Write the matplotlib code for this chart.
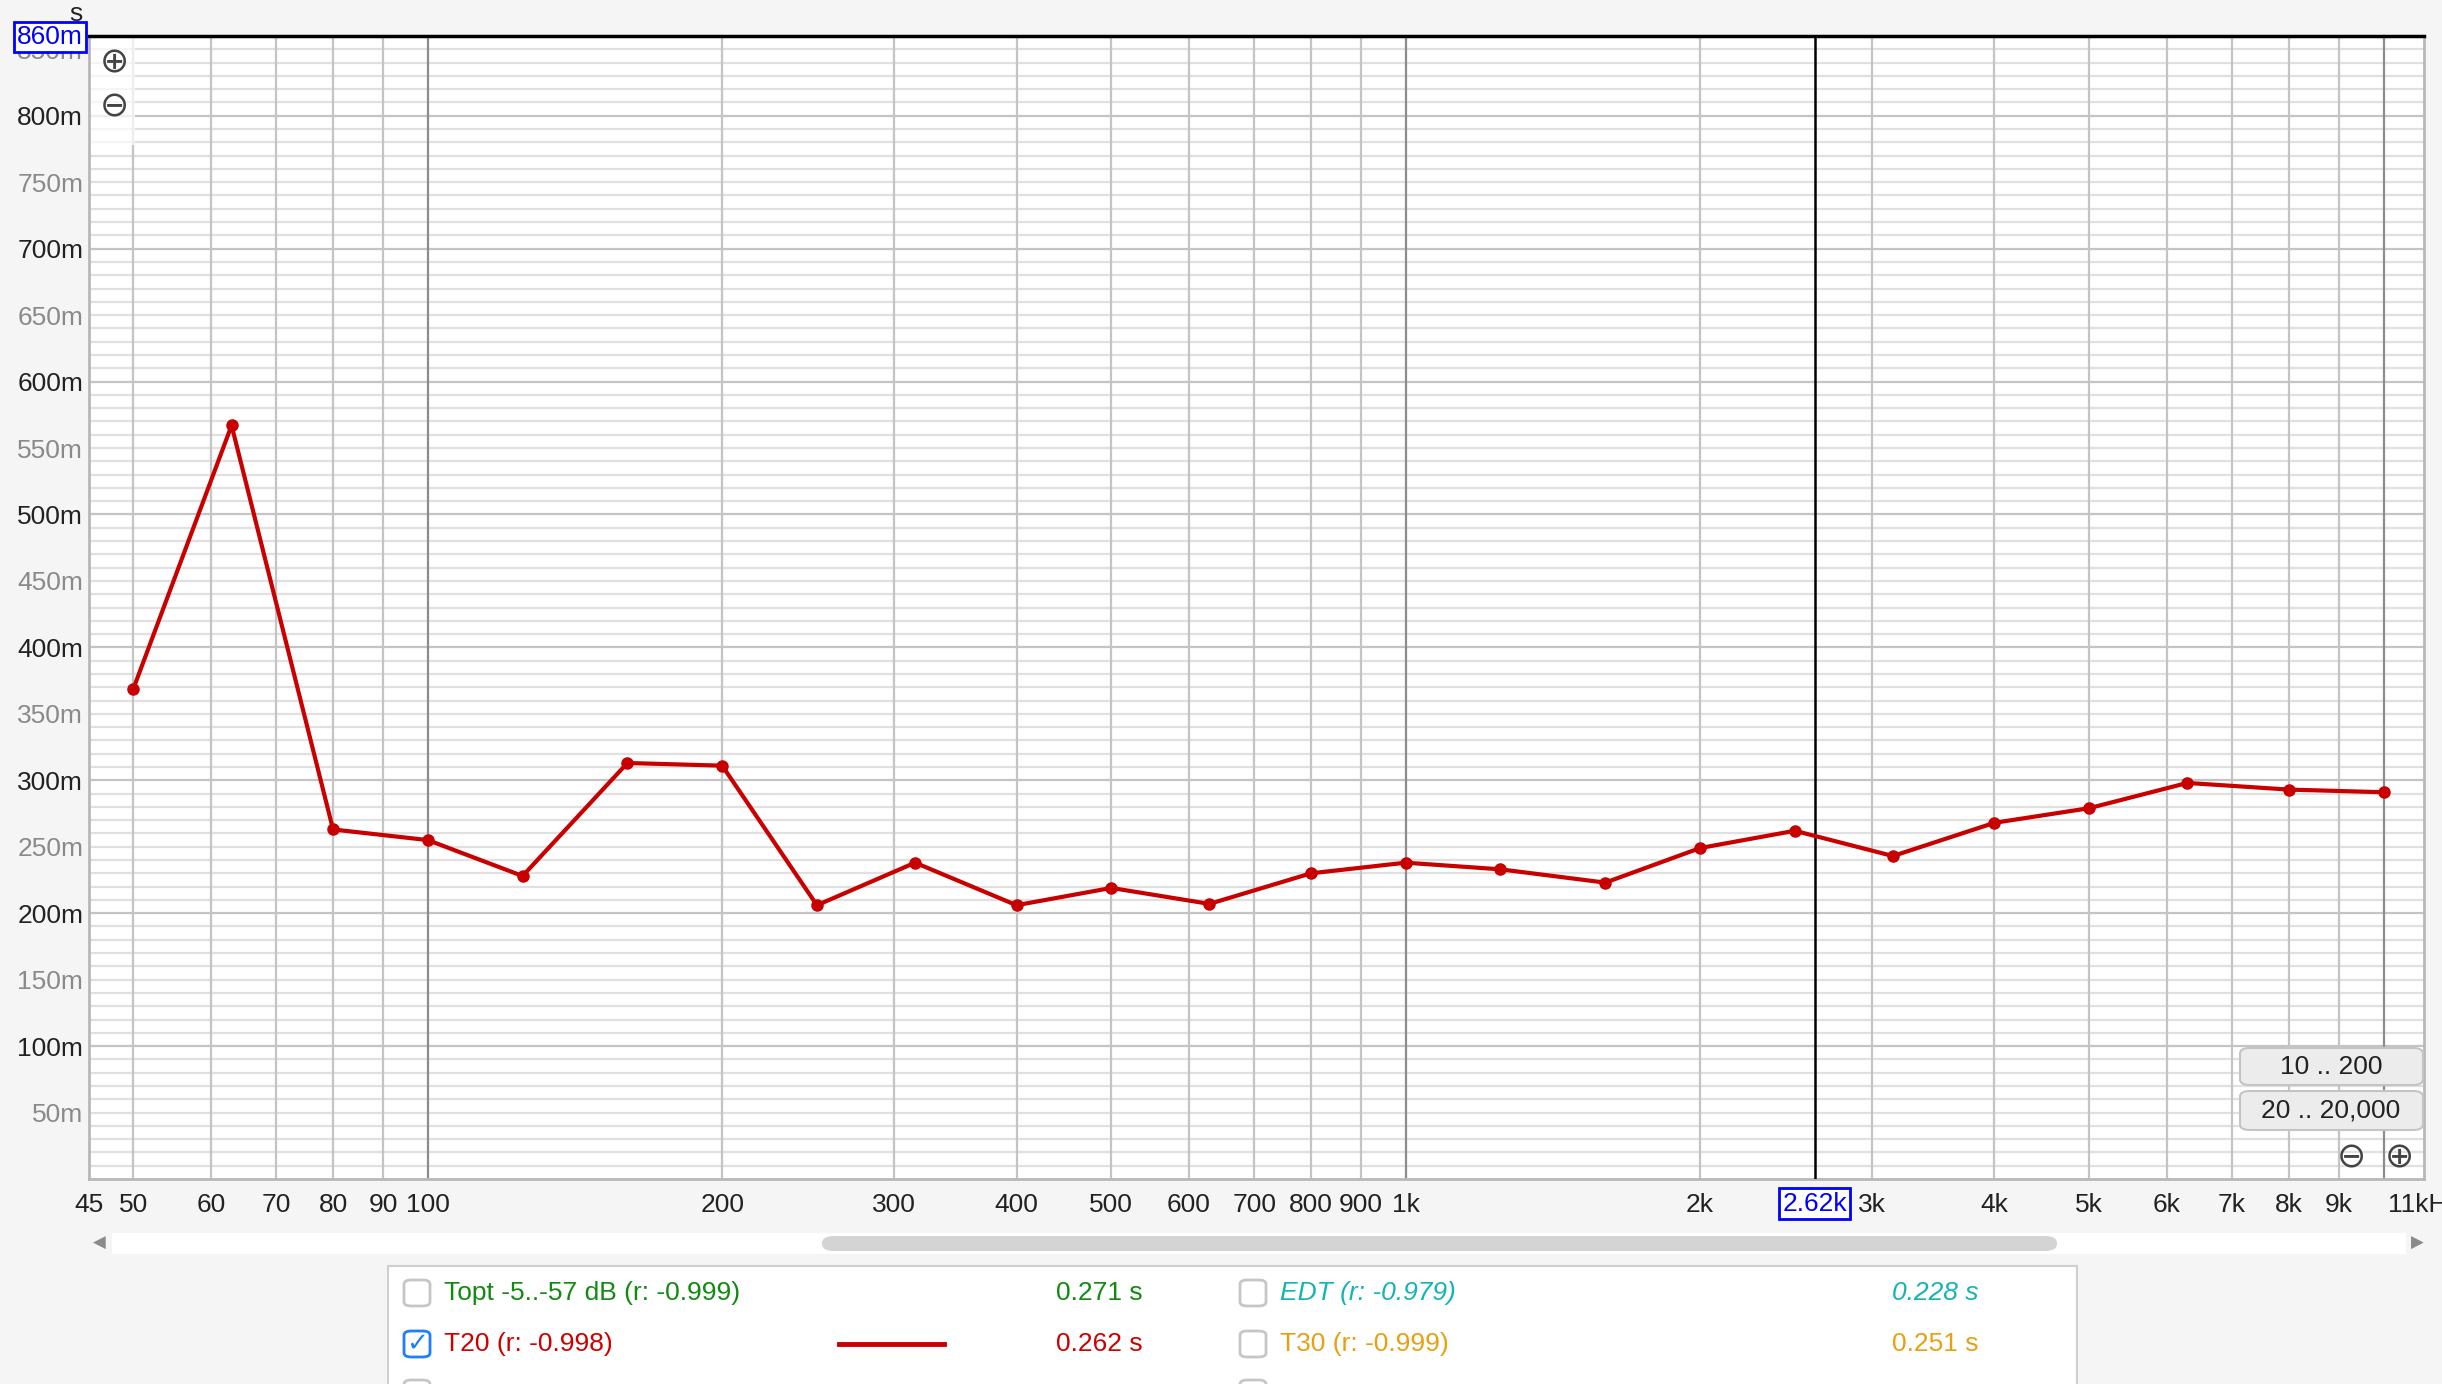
#!/usr/bin/env python

import matplotlib
matplotlib.use("Agg")
import matplotlib.pyplot as plt
from matplotlib.patches import Rectangle, FancyBboxPatch
from matplotlib.lines import Line2D
import matplotlib.transforms as mtransforms

plt.rcParams['font.family'] = ['Liberation Sans', 'DejaVu Sans']

# third-octave band centres (Hz) and T20 decay time (s)
freqs = [50, 63, 80, 100, 125, 160, 200, 250, 315, 400, 500, 630,
         800, 1000, 1250, 1600, 2000, 2500, 3150, 4000, 5000, 6300, 8000, 10000]
t20 = [0.369, 0.567, 0.263, 0.255, 0.228, 0.313, 0.311, 0.206, 0.238, 0.206, 0.219, 0.207,
       0.230, 0.238, 0.233, 0.223, 0.249, 0.262, 0.243, 0.268, 0.279, 0.298, 0.293, 0.291]

x_ticks = [45, 50, 60, 70, 80, 90, 100, 200, 300, 400, 500, 600, 700, 800, 900, 1000,
           2000, 3000, 4000, 5000, 6000, 7000, 8000, 9000, 11000]
x_labels = ["45", "50", "60", "70", "80", "90", "100", "200", "300", "400", "500", "600",
            "700", "800", "900", "1k", "2k", "3k", "4k", "5k", "6k", "7k", "8k", "9k", "11kHz"]
y_ticks = [0.05 * i for i in range(1, 18)]
y_labels = ["%dm" % round(v * 1000) for v in y_ticks]

cursor_freq = 2620
cursor_label = "2.62k"
top_label = "860m"

legend_names = ["Topt -5..-57 dB (r: -0.999)", "EDT (r: -0.979)",
                "T20 (r: -0.998)", "T30 (r: -0.999)"]
legend_values = ["0.271 s", "0.228 s", "0.262 s", "0.251 s"]
legend_colors = ["#128a12", "#14b4b4", "#cc0000", "#e8a010"]
legend_checked = [False, False, True, False]

W, H = 2442, 1384
RED = "#c80000"
FS = 19


def fx(px):
    return px / W


def fy(py):
    return 1 - py / H


def main():
    fig = plt.figure(figsize=(W / 100, H / 100), dpi=100, facecolor="#f5f5f5")
    ax = fig.add_axes([fx(88.7), fy(1179), fx(2424 - 88.7), (1179 - 36) / H])
    ax.set_facecolor("white")
    ax.set_xscale("log")
    ax.set_xlim(45, 11000)
    ax.set_ylim(0, 0.86)

    # grid
    for i in range(1, 87):
        v = i / 100
        ax.axhline(v, color="#c4c4c4" if i % 10 == 0 else "#e0e0e0", lw=1.6, zorder=1)
    for dec in [10, 100, 1000]:
        for m in range(1, 10):
            f = dec * m
            if f <= 45:
                continue
            dark = (m == 1 and dec > 10)
            ax.axvline(f, color="#8c8c8c" if dark else "#c4c4c4", lw=1.6, zorder=1)
    ax.axvline(10000, color="#8c8c8c", lw=1.6, zorder=1)

    # white backdrop behind zoom icons
    ax.add_patch(Rectangle((0, 0.905), 0.02, 0.095, transform=ax.transAxes,
                           facecolor="white", alpha=0.7, edgecolor="none", zorder=2))

    ax.plot(freqs, t20, color=RED, lw=3.0, marker="o", markersize=8, zorder=5)

    ax.axvline(cursor_freq, color="black", lw=1.8, zorder=4)

    ax.set_xticks(x_ticks)
    ax.set_xticklabels(x_labels)
    ax.minorticks_off()
    ax.set_yticks(y_ticks)
    ax.set_yticklabels(y_labels)
    ax.tick_params(axis="x", length=0, pad=10, labelsize=FS, labelcolor="#222222")
    ax.tick_params(axis="y", length=0, pad=4, labelsize=FS)
    for i, lab in enumerate(ax.get_yticklabels()):
        lab.set_color("#222222" if i % 2 == 1 else "#8a8a8a")

    for s in ["left", "bottom", "right"]:
        ax.spines[s].set_color("#b8b8b8")
        ax.spines[s].set_linewidth(2)
    ax.spines["top"].set_color("black")
    ax.spines["top"].set_linewidth(2.5)

    # cursor label on x axis
    trans = mtransforms.blended_transform_factory(ax.transData, ax.transAxes)
    ax.text(cursor_freq, -0.0215, cursor_label, transform=trans, ha="center", va="center",
            fontsize=FS, color="#0000ff",
            bbox=dict(boxstyle="square,pad=0.12", fc="white", ec="#0000ff", lw=2))

    # value box on y axis and unit
    fig.text(fx(83), fy(37), top_label, ha="right", va="center", fontsize=FS,
             color="#0000ff",
             bbox=dict(boxstyle="square,pad=0.12", fc="white", ec="#0000ff", lw=2))
    fig.text(fx(76), fy(14), "s", ha="center", va="center", fontsize=FS, color="#222222")

    # zoom icons
    for (px, py, sym) in [(114, 62, "\u2295"), (114, 106, "\u2296"),
                          (2351, 1157, "\u2296"), (2399, 1157, "\u2295")]:
        fig.text(fx(px), fy(py), sym, ha="center", va="center", fontsize=25,
                 color="#444444", family="DejaVu Sans", zorder=10)

    # range buttons
    for (py0, py1, txt) in [(1048, 1085, "10 .. 200"), (1091, 1130, "20 .. 20,000")]:
        fig.patches.append(FancyBboxPatch((fx(2240), fy(py1)), fx(2423 - 2240), (py1 - py0) / H,
                                          boxstyle="round,pad=0,rounding_size=0.004",
                                          transform=fig.transFigure, fc="#ececec",
                                          ec="#c4c4c4", lw=1.5, zorder=8))
        fig.text(fx(2331), fy((py0 + py1) / 2), txt, ha="center", va="center",
                 fontsize=FS, color="#222222", zorder=9)

    # scrollbar
    fig.patches.append(Rectangle((fx(112), fy(1254)), fx(2406 - 112), 21 / H,
                                 transform=fig.transFigure, fc="white", ec="none"))
    fig.patches.append(FancyBboxPatch((fx(822), fy(1251)), fx(2057 - 822), 15 / H,
                                      boxstyle="round,pad=0,rounding_size=0.005",
                                      transform=fig.transFigure, fc="#d4d4d4", ec="none"))
    fig.text(fx(99), fy(1243), "\u25c0", ha="center", va="center", fontsize=12,
             color="#8a8a8a", family="DejaVu Sans")
    fig.text(fx(2417), fy(1243), "\u25b6", ha="center", va="center", fontsize=12,
             color="#8a8a8a", family="DejaVu Sans")

    # legend panel
    fig.patches.append(Rectangle((fx(388), fy(1400)), fx(2077 - 388), 134 / H,
                                 transform=fig.transFigure, fc="white", ec="#cfcfcf", lw=1.5))
    rows_y = [1293, 1293, 1344, 1344]
    box_x = [417, 1253, 417, 1253]
    val_x = [1143, 1979, 1143, 1979]
    for i in range(4):
        bx, by = box_x[i], rows_y[i]
        ec = "#1e7cff" if legend_checked[i] else "#c6c6c6"
        fig.patches.append(FancyBboxPatch((fx(bx - 13), fy(by + 13)), fx(26), 26 / H,
                                          boxstyle="round,pad=0,rounding_size=0.003",
                                          transform=fig.transFigure, fc="white", ec=ec, lw=2))
        if legend_checked[i]:
            fig.text(fx(bx), fy(by), "\u2713", ha="center", va="center", fontsize=19,
                     color="#1e7cff", family="DejaVu Sans", weight="bold")
        style = "italic" if legend_names[i].startswith("EDT") else "normal"
        fig.text(fx(bx + 27), fy(by), legend_names[i], ha="left", va="center",
                 fontsize=FS, color=legend_colors[i], style=style)
        fig.text(fx(val_x[i]), fy(by), legend_values[i], ha="right", va="center",
                 fontsize=FS, color=legend_colors[i], style=style)
    # third row checkboxes, cut by the window edge
    for bx in [417, 1253]:
        fig.patches.append(FancyBboxPatch((fx(bx - 13), fy(1406)), fx(26), 26 / H,
                                          boxstyle="round,pad=0,rounding_size=0.003",
                                          transform=fig.transFigure, fc="white",
                                          ec="#c6c6c6", lw=2))
    fig.lines.append(Line2D([fx(839), fx(944)], [fy(1344), fy(1344)],
                            transform=fig.transFigure, color=RED, lw=3.5))

    fig.savefig("out.png", dpi=100, facecolor=fig.get_facecolor())


if __name__ == "__main__":
    main()
